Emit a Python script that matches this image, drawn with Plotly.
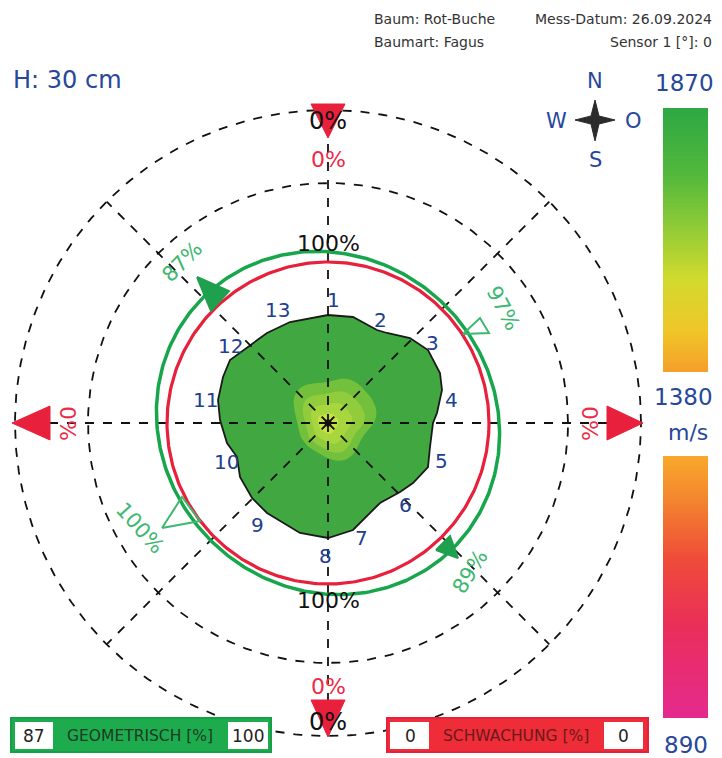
import numpy as np
import plotly.graph_objects as go

# ---- data -----------------------------------------------------------------
W, H = 722, 758
CX, CY = 328, 423          # stem centre in page pixels

# stem outline (offsets from centre, y up)
outline_x = [0, 25, 49, 59, 82, 100, 112, 114, 109, 105, 102, 100, 85, 72, 52, 35, 25,
             0, -28, -61, -76, -88, -91, -101, -108, -110, -105, -98, -78, -61, -38]
outline_y = [108, 106, 93, 90, 85, 73, 50, 33, 10, 0, -24, -44, -60, -69, -80, -97, -107,
             -115, -110, -90, -75, -54, -34, -20, 3, 23, 46, 63, 78, 90, 101]

sensor_ids = [str(i) for i in range(1, 14)]
sensor_label_px = [(333, 300), (380, 320), (432, 343), (451, 400), (441, 461), (405, 505),
                   (361, 538), (325, 556), (257, 525), (226, 462), (205, 400), (230, 346),
                   (277, 310)]

geo_pct = ["87%", "97%", "100%", "89%"]
weak_pct_outer = ["0%", "0%", "0%", "0%"]
geo_min, geo_max = 87, 100
weak_min, weak_max = 0, 0
speed_top, speed_mid, speed_bot = 1870, 1380, 890

ring_red_r = 161
ring_green_axes = (177, 166)   # along NW-SE, along NE-SW
grid_r = [240, 313]

BLUE = "#27479a"
FONT = "DejaVu Sans"


def P(px, py):
    """page pixel -> axis coordinates"""
    return px - CX, CY - py


fig = go.Figure()

# ---- stem cross-section -----------------------------------------------------
ox = outline_x + [outline_x[0]]
oy = outline_y + [outline_y[0]]
fig.add_trace(go.Scatter(x=ox, y=oy, mode="lines", fill="toself",
                         fillcolor="#41a841", line=dict(color="#1a1a1a", width=1.8),
                         hoverinfo="skip"))

# lighter core zone
t = np.linspace(0, 2 * np.pi, 60)
for rr, col, dx, dy in [(40, "#72c03c", 6, 6), (30, "#90cc3c", 5, 3),
                        (20, "#a8d63e", 3, 1), (10, "#c6e244", 0, 0)]:
    wob = 1 + 0.08 * np.sin(3 * t) + 0.05 * np.cos(5 * t)
    fig.add_trace(go.Scatter(x=dx + rr * wob * np.cos(t), y=dy + rr * wob * np.sin(t),
                             mode="lines", fill="toself", fillcolor=col,
                             line=dict(width=0), hoverinfo="skip"))

# ---- grid: dashed circles and spokes ---------------------------------------
tt = np.linspace(0, 2 * np.pi, 361)
for r in grid_r:
    fig.add_trace(go.Scatter(x=r * np.cos(tt), y=r * np.sin(tt), mode="lines",
                             line=dict(color="#111", width=1.8, dash="dash"),
                             hoverinfo="skip"))
for a in range(0, 360, 45):
    ra = np.deg2rad(a)
    fig.add_trace(go.Scatter(x=[0, grid_r[-1] * np.cos(ra)], y=[0, grid_r[-1] * np.sin(ra)],
                             mode="lines", line=dict(color="#111", width=1.8, dash="dash"),
                             hoverinfo="skip"))

# centre dot
fig.add_trace(go.Scatter(x=[0], y=[0], mode="markers",
                         marker=dict(color="#111", size=7), hoverinfo="skip"))

# ---- rings -------------------------------------------------------------------
ga, gb = ring_green_axes
u, v = ga * np.cos(tt), gb * np.sin(tt)
rot = np.deg2rad(135)
gx = u * np.cos(rot) - v * np.sin(rot)
gy = u * np.sin(rot) + v * np.cos(rot)
fig.add_trace(go.Scatter(x=gx, y=gy, mode="lines",
                         line=dict(color="#17a64c", width=3.5), hoverinfo="skip"))
fig.add_trace(go.Scatter(x=ring_red_r * np.cos(tt), y=ring_red_r * np.sin(tt),
                         mode="lines", line=dict(color="#e8203c", width=3.2), hoverinfo="skip"))


def tri(pts, fill, line_col, width=2):
    xs, ys = zip(*[P(*p) for p in pts])
    xs = list(xs) + [xs[0]]
    ys = list(ys) + [ys[0]]
    fig.add_trace(go.Scatter(x=xs, y=ys, mode="lines",
                             fill="toself" if fill else None,
                             fillcolor=fill if fill else None,
                             line=dict(color=line_col, width=width), hoverinfo="skip"))


# green markers on the ring
tri([(197, 277), (229, 291), (211, 311)], "#1fa04e", "#1fa04e")
tri([(463, 334), (480, 318), (489, 333)], None, "#3cb870")
tri([(162, 528), (182, 497), (200, 521)], None, "#3cb870")
tri([(436, 550), (450, 536), (458, 558)], "#1fa04e", "#1fa04e")

# red arrows on the outer circle
tri([(311, 104), (345, 104), (328, 138)], "#e8203c", "#e8203c", 1)
tri([(311, 700), (345, 700), (328, 737)], "#e8203c", "#e8203c", 1)
tri([(50, 406), (50, 440), (12, 423)], "#e8203c", "#e8203c", 1)
tri([(607, 406), (607, 440), (643, 423)], "#e8203c", "#e8203c", 1)

# ---- velocity colour bars --------------------------------------------------
n = 120
yt0, yt1 = P(0, 108)[1], P(0, 372)[1]
fig.add_trace(go.Heatmap(
    x=[P(663, 0)[0], P(708, 0)[0]], y=np.linspace(yt1, yt0, n + 1),
    z=np.linspace(speed_mid, speed_top, n).reshape(-1, 1),
    zmin=speed_mid, zmax=speed_top, showscale=False, hoverinfo="skip",
    colorscale=[[0, "#f5a02a"], [0.15, "#f0c628"], [0.35, "#d2da2e"],
                [0.55, "#8fcb36"], [0.75, "#52b83c"], [1, "#2ea844"]]))
yb0, yb1 = P(0, 456)[1], P(0, 718)[1]
fig.add_trace(go.Heatmap(
    x=[P(663, 0)[0], P(708, 0)[0]], y=np.linspace(yb1, yb0, n + 1),
    z=np.linspace(speed_bot, speed_mid, n).reshape(-1, 1),
    zmin=speed_bot, zmax=speed_mid, showscale=False, hoverinfo="skip",
    colorscale=[[0, "#e52a8e"], [0.35, "#ea2e5a"], [0.6, "#ef4a3a"],
                [0.85, "#f4882e"], [1, "#f8a82c"]]))

# ---- compass star ---------------------------------------------------------
cs = [(595, 100), (599, 116), (615, 120), (599, 124), (595, 141), (591, 124), (575, 120), (591, 116)]
tri(cs, "#2b2b2b", "#2b2b2b", 1)

# ---- legend boxes ------------------------------------------------------------
shapes = []


def rect(x0, y0, x1, y1, fill, line, lw=2):
    a0, b0 = P(x0, y1)
    a1, b1 = P(x1, y0)
    shapes.append(dict(type="rect", x0=a0, y0=b0, x1=a1, y1=b1, xref="x", yref="y",
                       fillcolor=fill, line=dict(color=line, width=lw), layer="above"))


rect(11, 718, 271, 752, "#1eab4e", "#15a048")
rect(15, 722, 53, 749, "white", "white", 0)
rect(228, 722, 268, 749, "white", "white", 0)
rect(387, 718, 648, 752, "#ee2d38", "#e8203c")
rect(390, 722, 429, 749, "white", "white", 0)
rect(604, 722, 643, 749, "white", "white", 0)

# ---- text --------------------------------------------------------------------
ann = []


def txt(px, py, s, size, color, angle=0, xanchor="center"):
    x, y = P(px, py)
    ann.append(dict(x=x, y=y, text=s, showarrow=False, xref="x", yref="y",
                    font=dict(family=FONT, size=size, color=color),
                    textangle=angle, xanchor=xanchor, yanchor="middle"))


txt(372, 19, "Baum: Rot-Buche", 14, "#333", xanchor="left")
txt(372, 42, "Baumart: Fagus", 14, "#333", xanchor="left")
txt(714, 19, "Mess-Datum: 26.09.2024", 14, "#333", xanchor="right")
txt(714, 42, "Sensor 1 [°]: 0", 14, "#333", xanchor="right")
txt(11, 80, "H: 30 cm", 24, BLUE, xanchor="left")

txt(595, 81, "N", 21, BLUE)
txt(595, 160, "S", 21, BLUE)
txt(556, 121, "W", 21, BLUE)
txt(633, 121, "O", 21, BLUE)

txt(684, 83, str(speed_top), 23, BLUE)
txt(683, 397, str(speed_mid), 23, BLUE)
txt(688, 432, "m/s", 22, BLUE)
txt(686, 745, str(speed_bot), 23, BLUE)

RED = "#ee2a46"
txt(328, 121, "0%", 24, "#111")
txt(328, 159, weak_pct_outer[0], 22, RED)
txt(328, 243, "100%", 22, "#111")
txt(328, 600, "100%", 22, "#111")
txt(328, 686, weak_pct_outer[2], 22, RED)
txt(328, 722, "0%", 24, "#111")
txt(68, 423, weak_pct_outer[3], 22, RED, angle=90)
txt(590, 423, weak_pct_outer[1], 22, RED, angle=90)

GRN = "#3cb870"
txt(182, 262, geo_pct[0], 21, GRN, angle=-45)
txt(503, 308, geo_pct[1], 21, GRN, angle=62)
txt(140, 528, geo_pct[2], 21, GRN, angle=48)
txt(470, 572, geo_pct[3], 21, GRN, angle=-58)

for sid, (px, py) in zip(sensor_ids, sensor_label_px):
    txt(px, py, sid, 20, "#20408e")

txt(34, 736, str(geo_min), 17, "#222")
txt(140, 736, "GEOMETRISCH [%]", 15.5, "#1d3a24")
txt(248, 736, str(geo_max), 17, "#222")
txt(410, 736, str(weak_min), 17, "#222")
txt(516, 736, "SCHWACHUNG [%]", 15.5, "#6a1a1a")
txt(623, 736, str(weak_max), 17, "#222")

fig.update_layout(
    width=W, height=H, margin=dict(l=0, r=0, t=0, b=0),
    paper_bgcolor="white", plot_bgcolor="white", showlegend=False,
    xaxis=dict(range=[-CX, W - CX], visible=False, fixedrange=True),
    yaxis=dict(range=[CY - H, CY], visible=False, fixedrange=True),
    shapes=shapes, annotations=ann,
)

fig.write_html("out.html")
